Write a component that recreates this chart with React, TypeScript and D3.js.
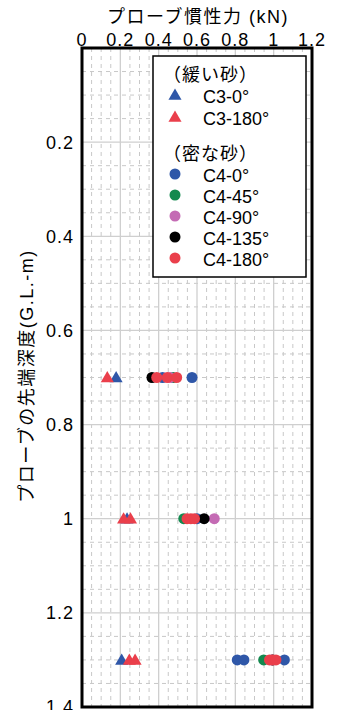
import React from "react";
import * as d3 from "d3";

const W = 342;
const H = 710;

const xTicks = [0, 0.2, 0.4, 0.6, 0.8, 1, 1.2];
const yTicks = [0.2, 0.4, 0.6, 0.8, 1, 1.2, 1.4];
const xTitle = "プローブ慣性力 (kN)";
const yTitle = "プローブの先端深度(G.L.-m)";

// series: [force kN, depth m]
const c3_0: [number, number][] = [[0.178, 0.7], [0.235, 1.0], [0.207, 1.3]];
const c3_180: [number, number][] = [[0.132, 0.7], [0.217, 1.0], [0.253, 1.0], [0.247, 1.3], [0.277, 1.3]];
const c4_0: [number, number][] = [[0.42, 0.7], [0.574, 0.7], [0.6, 1.0], [0.81, 1.3], [0.845, 1.3], [1.056, 1.3]];
const c4_45: [number, number][] = [[0.475, 0.7], [0.531, 1.0], [0.948, 1.3]];
const c4_90: [number, number][] = [[0.46, 0.7], [0.69, 1.0], [0.99, 1.3]];
const c4_135: [number, number][] = [[0.365, 0.7], [0.637, 1.0], [0.995, 1.3]];
const c4_180: [number, number][] = [[0.39, 0.7], [0.445, 0.7], [0.494, 0.7], [0.548, 1.0], [0.568, 1.0], [0.587, 1.0], [0.978, 1.3], [0.995, 1.3], [1.012, 1.3]];

const BLUE = "#2f57a8";
const RED = "#ea3f4b";
const GREEN = "#13894f";
const MAGENTA = "#c46bb4";
const BLACK = "#000000";

const series = [
  { name: "C3-0°", data: c3_0, color: BLUE, shape: "tri" },
  { name: "C3-180°", data: c3_180, color: RED, shape: "tri" },
  { name: "C4-0°", data: c4_0, color: BLUE, shape: "circle" },
  { name: "C4-45°", data: c4_45, color: GREEN, shape: "circle" },
  { name: "C4-90°", data: c4_90, color: MAGENTA, shape: "circle" },
  { name: "C4-135°", data: c4_135, color: BLACK, shape: "circle" },
  { name: "C4-180°", data: c4_180, color: RED, shape: "circle" },
];

const FONT = "'Liberation Sans', Arial, 'Noto Sans CJK JP', sans-serif";

export default function App() {
  const x = d3.scaleLinear().domain([0, 1.2]).range([82, 312]);
  const y = d3.scaleLinear().domain([0, 1.4]).range([48, 707]);
  const tri = d3.symbol().type(d3.symbolTriangle).size(74)();
  const minorX = d3.range(0, 1.2001, 0.05).filter((v) => Math.abs(v / 0.2 - Math.round(v / 0.2)) > 1e-6);
  const minorY = d3.range(0, 1.4001, 0.05).filter((v) => Math.abs(v / 0.2 - Math.round(v / 0.2)) > 1e-6);
  const majorX = [0.2, 0.4, 0.6, 0.8, 1.0];
  const majorY = [0.2, 0.4, 0.6, 0.8, 1.0, 1.2];

  const marker = (shape: string, color: string, cx: number, cy: number, key: string) =>
    shape === "tri" ? (
      <path key={key} d={tri as string} transform={`translate(${cx},${cy + 1})`} fill={color} />
    ) : (
      <circle key={key} cx={cx} cy={cy} r={5.5} fill={color} />
    );

  const legendX = 153;
  const legendY = 56;
  const legendItems = [
    { label: "（緩い砂）", header: true, y: 81 },
    { s: series[0], y: 103 },
    { s: series[1], y: 125 },
    { label: "（密な砂）", header: true, y: 160 },
    { s: series[2], y: 182 },
    { s: series[3], y: 203 },
    { s: series[4], y: 224 },
    { s: series[5], y: 245 },
    { s: series[6], y: 266 },
  ];

  return (
    <svg width={W} height={H} style={{ position: "absolute", left: 0, top: 0 }} fontFamily={FONT}>
      <rect x={0} y={0} width={W} height={H} fill="#fff" />
      {/* minor grid */}
      {minorX.map((v, i) => (
        <line key={"mx" + i} x1={x(v)} x2={x(v)} y1={y(0)} y2={y(1.4)} stroke="#c8c8c8" strokeWidth={1} strokeDasharray="4,4" />
      ))}
      {minorY.map((v, i) => (
        <line key={"my" + i} x1={x(0)} x2={x(1.2)} y1={y(v)} y2={y(v)} stroke="#c8c8c8" strokeWidth={1} strokeDasharray="4,4" />
      ))}
      {majorX.map((v, i) => (
        <line key={"Mx" + i} x1={x(v)} x2={x(v)} y1={y(0)} y2={y(1.4)} stroke="#cfcfcf" strokeWidth={1.3} />
      ))}
      {majorY.map((v, i) => (
        <line key={"My" + i} x1={x(0)} x2={x(1.2)} y1={y(v)} y2={y(v)} stroke="#cfcfcf" strokeWidth={1.3} />
      ))}
      {/* data */}
      {series.map((s, si) =>
        s.data.map((d, di) => marker(s.shape, s.color, x(d[0]), y(d[1]), `d${si}-${di}`))
      )}
      {/* frame */}
      <rect x={x(0)} y={y(0)} width={x(1.2) - x(0)} height={y(1.4) - y(0)} fill="none" stroke="#000" strokeWidth={3} />
      {/* x ticks */}
      {xTicks.map((v, i) => (
        <text key={"xt" + i} x={x(v)} y={46} textAnchor="middle" fontSize={18} letterSpacing={1}>
          {d3.format("~g")(v)}
        </text>
      ))}
      <text x={198} y={23} textAnchor="middle" fontSize={18} letterSpacing={1.5}>
        {xTitle}
      </text>
      {/* y ticks */}
      {yTicks.map((v, i) => (
        <text key={"yt" + i} x={74} y={y(v)} dy="0.36em" textAnchor="end" fontSize={18} letterSpacing={1}>
          {d3.format("~g")(v)}
        </text>
      ))}
      <text transform={`translate(33,376) rotate(-90)`} textAnchor="middle" fontSize={18} letterSpacing={1.5}>
        {yTitle}
      </text>
      {/* legend */}
      <rect x={legendX} y={legendY} width={153} height={221} fill="#fff" stroke="#000" strokeWidth={1.5} />
      {legendItems.map((it: any, i) =>
        it.header ? (
          <text key={"lg" + i} x={163} y={it.y} fontSize={18} letterSpacing={1}>
            {it.label}
          </text>
        ) : (
          <g key={"lg" + i}>
            {marker(it.s.shape, it.s.color, 175, it.y - 8, "lm" + i)}
            <text x={203} y={it.y} fontSize={18}>
              {it.s.name}
            </text>
          </g>
        )
      )}
    </svg>
  );
}
